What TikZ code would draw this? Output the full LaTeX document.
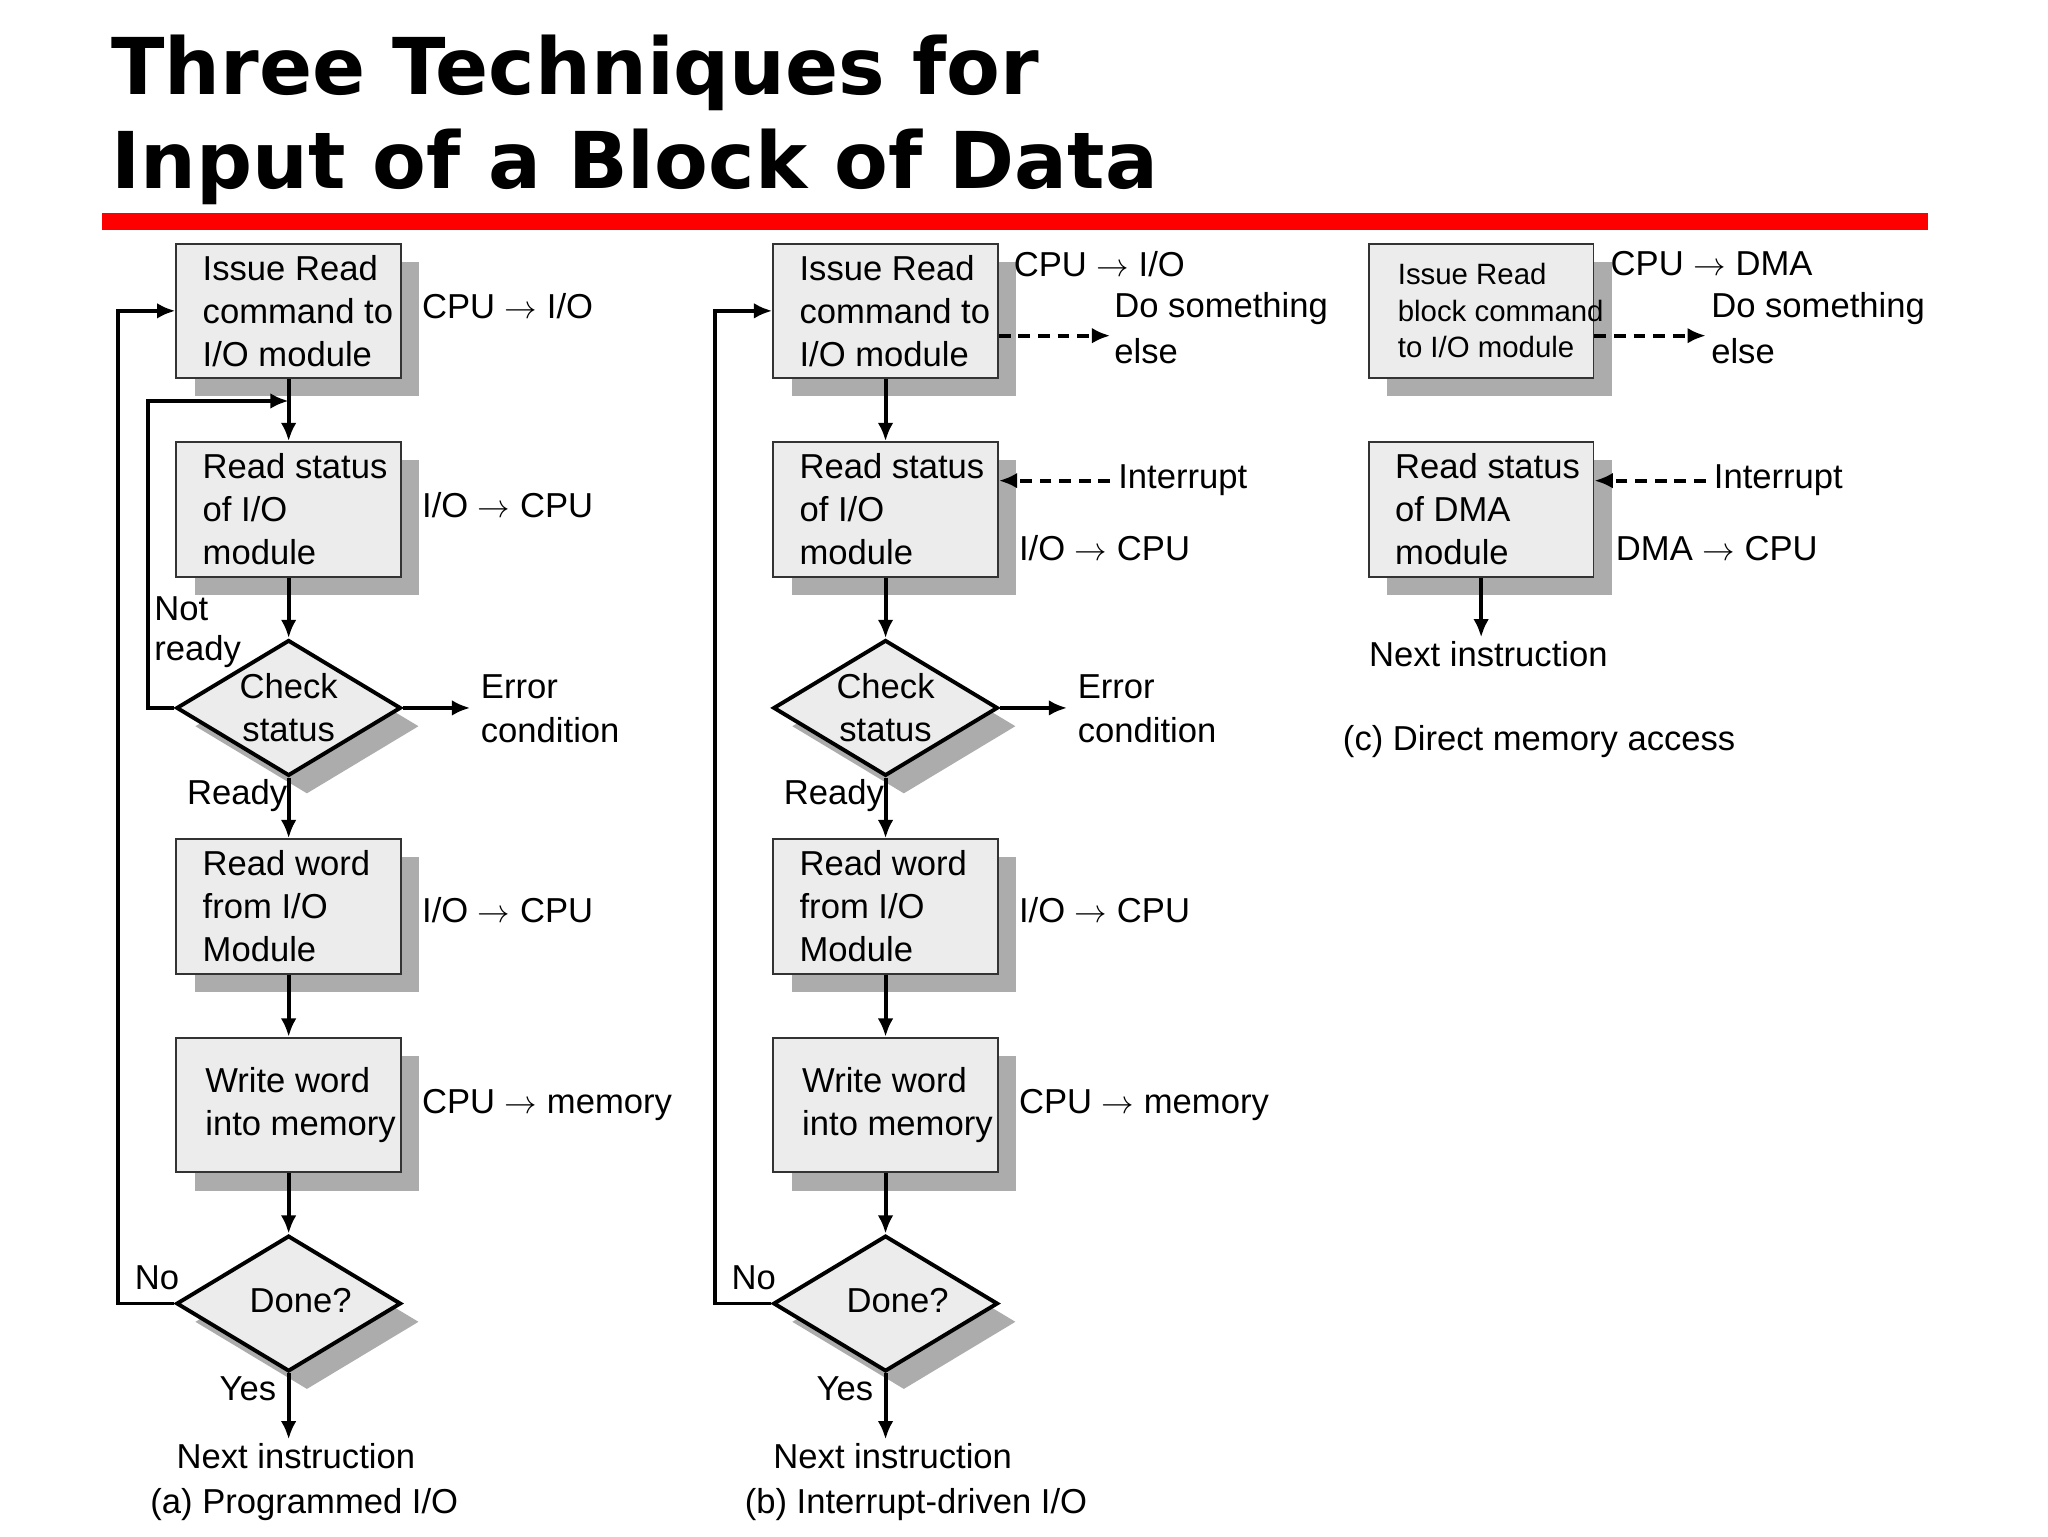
\documentclass[tikz,border=0pt]{standalone}
\usepackage{fontspec}
\setmainfont{Liberation Sans}
\newfontfamily\titlefont{DejaVu Sans}
\usetikzlibrary{shapes.geometric,shadows,arrows.meta}
\begin{document}
\begin{tikzpicture}[x=1pt,y=-1pt,
 sh/.style={general shadow={fill=gray!65,shadow xshift=14pt,shadow yshift=-14pt}},
 bx/.style={draw=gray!40!black,line width=1.5pt,fill=gray!15,sh,minimum width=172pt,minimum height=103pt,inner sep=0pt},
 dm/.style={diamond,draw=black,line width=3pt,fill=gray!15,sh,minimum width=172pt,minimum height=104pt,inner sep=0pt},
 tx/.style={anchor=west,inner sep=0pt,font=\fontsize{26.5}{33}\selectfont,align=left},
 ar/.style={line width=3pt,-{Latex[length=14pt,width=12pt]}},
 da/.style={ar,dash pattern=on 9pt off 6pt}]
\useasboundingbox (0,0) rectangle (1568,1176);
\node[anchor=west,inner sep=0pt,font=\fontsize{60}{70}\selectfont\titlefont\bfseries] (t1) at (85,56) {Three Techniques for};
\node[anchor=west,inner sep=0pt,font=\fontsize{60}{70}\selectfont\titlefont\bfseries] (t2) at (85,128) {Input of a Block of Data};
\fill[red] (78,163) rectangle (1476,176);
\foreach \c/\o in {a/0,b/457}{
 \begin{scope}[xshift=\o pt]
 \node[bx] (\c1) at (221,238) {};
 \node[tx] at (155,238) {Issue Read\\command to\\I/O module};
 \node[bx] (\c2) at (221,390) {};
 \node[tx] at (155,390) {Read status\\of I/O\\module};
 \node[dm] (\c3) at (221,542) {};
 \node[font=\fontsize{26.5}{33}\selectfont,align=center] at (221,542) {Check\\status};
 \node[bx] (\c4) at (221,694) {};
 \node[tx] at (155,694) {Read word\\from I/O\\Module};
 \node[bx] (\c5) at (221,846) {};
 \node[tx] at (157,846) {Write word\\into memory};
 \node[dm] (\c6) at (221,998) {};
 \node[tx] at (191,996) {Done?};
 \coordinate (\c e) at (360,542);
 \coordinate (\c n) at (221,1102);
 \draw[ar] (\c2.south) -- (\c3.north);
 \draw[ar] (\c3.south) -- (\c4.north);
 \draw[ar] (\c4.south) -- (\c5.north);
 \draw[ar] (\c5.south) -- (\c6.north);
 \draw[ar] (\c3.east) -- (\c e);
 \draw[ar] (\c6.south) -- (\c n);
 \draw[ar] (\c6.west) -- ++(-43,0) |- (\c1.west);
 \node[tx] at (368,526) {Error};
 \node[tx] at (368,559) {condition};
 \node[tx] at (143,609) {Ready};
 \node[tx] at (103,978) {No};
 \node[tx] at (168,1063) {Yes};
 \node[tx] at (135,1115) {Next instruction};
 \node[tx] at (323,697) {I/O $\rightarrow$ CPU};
 \node[tx] at (323,846) {CPU $\rightarrow$ memory};
 \end{scope}}
\draw[ar] (a1.south) -- (a2.north);
\coordinate (aj) at (221,307);
\draw[ar] (a3.west) -- (113,542) |- (aj);
\node[tx] at (118,466) {Not};
\node[tx] at (118,499) {ready};
\node[tx] at (323,234) {CPU $\rightarrow$ I/O};
\node[tx] at (323,387) {I/O $\rightarrow$ CPU};
\node[tx] at (115,1152) {(a) Programmed I/O};
\draw[ar] (b1.south) -- (b2.north);
\coordinate (bd) at (850,257);
\coordinate (bi) at (850,368);
\draw[da] (b1.east|-bd) -- (bd);
\draw[da] (bi) -- (b2.east|-bi);
\node[tx] at (776,202) {CPU $\rightarrow$ I/O};
\node[tx] at (853,236) {Do something};
\node[tx] at (853,269) {else};
\node[tx] at (856,368) {Interrupt};
\node[tx] at (780,420) {I/O $\rightarrow$ CPU};
\node[tx] at (570,1152) {(b) Interrupt-driven I/O};
\node[bx] (c1) at (1134,238) {};
\node[tx,font=\fontsize{22.5}{28}\selectfont] at (1070,238) {Issue Read\\block command\\to I/O module};
\node[bx] (c2) at (1134,390) {};
\node[tx] at (1068,390) {Read status\\of DMA\\module};
\coordinate (cd) at (1306,257);
\coordinate (ci) at (1306,368);
\coordinate (cn) at (1134,488);
\draw[da] (c1.east|-cd) -- (cd);
\draw[da] (ci) -- (c2.east|-ci);
\draw[ar] (c2.south) -- (cn);
\node[tx] at (1233,202) {CPU $\rightarrow$ DMA};
\node[tx] at (1310,236) {Do something};
\node[tx] at (1310,269) {else};
\node[tx] at (1312,368) {Interrupt};
\node[tx] at (1237,420) {DMA $\rightarrow$ CPU};
\node[tx] at (1048,501) {Next instruction};
\node[tx] at (1028,568) {(c) Direct memory access};
\end{tikzpicture}
\end{document}
